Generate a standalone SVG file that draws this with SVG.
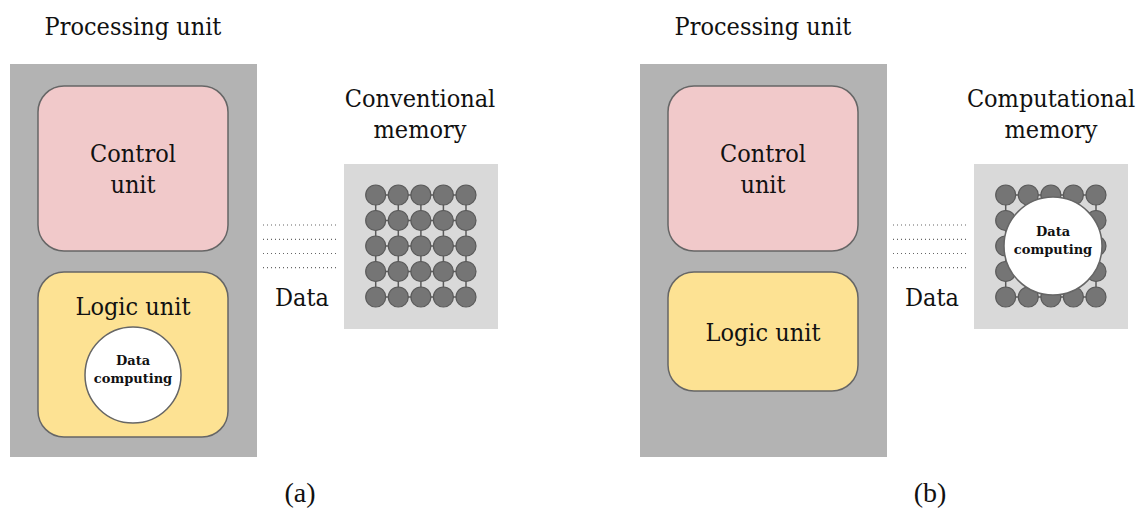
<svg xmlns="http://www.w3.org/2000/svg" width="1140" height="510" viewBox="0 0 1140 510">
<defs>
<style>
text{font-family:"DejaVu Serif","Liberation Serif",serif;fill:#111;text-anchor:middle}
.t{font-family:"DejaVu Serif Condensed","DejaVu Serif","Liberation Serif",serif;font-stretch:condensed;font-size:25px}
.b{font-size:13px;font-weight:bold}
.lab{font-family:"Liberation Serif",serif;font-size:28px}
.pu{fill:#b3b3b3}
.cu{fill:#f1c9ca;stroke:#666;stroke-width:1.5}
.lu{fill:#fde293;stroke:#666;stroke-width:1.5}
.dc{fill:#fff;stroke:#666;stroke-width:1.5}
.mem{fill:#d9d9d9}
.cell{fill:#757575;stroke:#5a5a5a;stroke-width:1.2}
.wire{stroke:#5a5a5a;stroke-width:1.5}
.dot{stroke:#666;stroke-width:1.2;stroke-dasharray:1 3;fill:none}
</style>
<g id="grid">
<g class="wire">
<line x1="375.7" y1="195" x2="466" y2="195"/>
<line x1="375.7" y1="220.5" x2="466" y2="220.5"/>
<line x1="375.7" y1="246" x2="466" y2="246"/>
<line x1="375.7" y1="271.5" x2="466" y2="271.5"/>
<line x1="375.7" y1="297" x2="466" y2="297"/>
<line x1="375.7" y1="195" x2="375.7" y2="297"/>
<line x1="398.3" y1="195" x2="398.3" y2="297"/>
<line x1="420.9" y1="195" x2="420.9" y2="297"/>
<line x1="443.4" y1="195" x2="443.4" y2="297"/>
<line x1="466" y1="195" x2="466" y2="297"/>
</g>
<g class="cell">
<circle cx="375.7" cy="195" r="10"/><circle cx="398.3" cy="195" r="10"/><circle cx="420.9" cy="195" r="10"/><circle cx="443.4" cy="195" r="10"/><circle cx="466" cy="195" r="10"/>
<circle cx="375.7" cy="220.5" r="10"/><circle cx="398.3" cy="220.5" r="10"/><circle cx="420.9" cy="220.5" r="10"/><circle cx="443.4" cy="220.5" r="10"/><circle cx="466" cy="220.5" r="10"/>
<circle cx="375.7" cy="246" r="10"/><circle cx="398.3" cy="246" r="10"/><circle cx="420.9" cy="246" r="10"/><circle cx="443.4" cy="246" r="10"/><circle cx="466" cy="246" r="10"/>
<circle cx="375.7" cy="271.5" r="10"/><circle cx="398.3" cy="271.5" r="10"/><circle cx="420.9" cy="271.5" r="10"/><circle cx="443.4" cy="271.5" r="10"/><circle cx="466" cy="271.5" r="10"/>
<circle cx="375.7" cy="297" r="10"/><circle cx="398.3" cy="297" r="10"/><circle cx="420.9" cy="297" r="10"/><circle cx="443.4" cy="297" r="10"/><circle cx="466" cy="297" r="10"/>
</g>
</g>
</defs>

<!-- Panel (a) -->
<g id="a-title"><text class="t" x="133" y="35">Processing unit</text></g>
<g id="a-processing-unit"><rect class="pu" x="10" y="64" width="247" height="393"/></g>
<g id="a-control-unit">
<rect class="cu" x="38" y="86" width="190" height="165" rx="26"/>
<text class="t" x="133" y="162">Control</text>
<text class="t" x="133" y="193">unit</text>
</g>
<g id="a-logic-unit">
<rect class="lu" x="38" y="272" width="190" height="165" rx="26"/>
<text class="t" x="133" y="315">Logic unit</text>
</g>
<g id="a-data-computing">
<circle class="dc" cx="133" cy="375" r="48"/>
<text class="b" x="133" y="365">Data</text>
<text class="b" x="133" y="383">computing</text>
</g>
<g id="a-memory-label">
<text class="t" x="420" y="107">Conventional</text>
<text class="t" x="420" y="138">memory</text>
</g>
<g id="a-memory">
<rect class="mem" x="344" y="164" width="154" height="165"/>
<use href="#grid"/>
</g>
<g id="a-connectors">
<line class="dot" x1="263" y1="225" x2="338" y2="225"/>
<line class="dot" x1="263" y1="239.3" x2="338" y2="239.3"/>
<line class="dot" x1="263" y1="253.5" x2="338" y2="253.5"/>
<line class="dot" x1="263" y1="267.7" x2="338" y2="267.7"/>
</g>
<g id="a-data-label"><text class="t" x="302" y="306">Data</text></g>
<g id="a-caption"><text class="lab" x="300" y="502">(a)</text></g>

<!-- Panel (b) -->
<g id="b-title"><text class="t" x="763" y="35">Processing unit</text></g>
<g id="b-processing-unit"><rect class="pu" x="640" y="64" width="247" height="393"/></g>
<g id="b-control-unit">
<rect class="cu" x="668" y="86" width="190" height="165" rx="26"/>
<text class="t" x="763" y="162">Control</text>
<text class="t" x="763" y="193">unit</text>
</g>
<g id="b-logic-unit">
<rect class="lu" x="668" y="272" width="190" height="119" rx="26"/>
<text class="t" x="763" y="341">Logic unit</text>
</g>
<g id="b-memory-label">
<text class="t" x="1051" y="107">Computational</text>
<text class="t" x="1051" y="138">memory</text>
</g>
<g id="b-memory">
<rect class="mem" x="974" y="164" width="154" height="165"/>
<use href="#grid" x="630"/>
</g>
<g id="b-data-computing">
<circle class="dc" cx="1053" cy="246" r="49"/>
<text class="b" x="1053" y="236">Data</text>
<text class="b" x="1053" y="254">computing</text>
</g>
<g id="b-connectors">
<line class="dot" x1="893" y1="225" x2="968" y2="225"/>
<line class="dot" x1="893" y1="239.3" x2="968" y2="239.3"/>
<line class="dot" x1="893" y1="253.5" x2="968" y2="253.5"/>
<line class="dot" x1="893" y1="267.7" x2="968" y2="267.7"/>
</g>
<g id="b-data-label"><text class="t" x="932" y="306">Data</text></g>
<g id="b-caption"><text class="lab" x="930" y="502">(b)</text></g>
</svg>
